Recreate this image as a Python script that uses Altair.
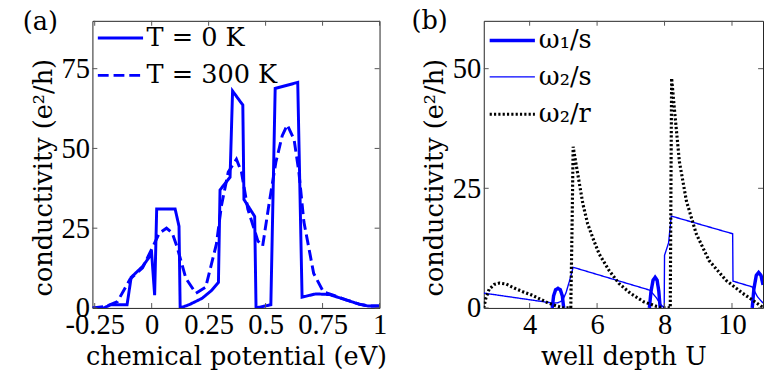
import altair as alt
import pandas as pd

# ---------------- Panel (a) data ----------------
a_t0_x = [-0.26, -0.21, -0.18, -0.108, -0.09, -0.04, 0.0, 0.013, 0.022, 0.103, 0.12, 0.125,
          0.164, 0.221, 0.263, 0.293, 0.30, 0.344, 0.355, 0.40, 0.405, 0.452, 0.458, 0.523,
          0.542, 0.641, 0.66, 0.72, 0.78, 0.85, 0.91, 0.95, 1.0]
a_t0_y = [0, 0, 1, 1, 9.6, 13, 17, 4, 31, 31, 25.6, 0,
          1, 3, 5.5, 8, 37, 41, 68, 63.6, 34, 28.7, 0, 1,
          68.8, 70.7, 3.4, 4.4, 4.2, 2.6, 1.2, 0.6, 0.6]
a_t300_x = [-0.26, -0.2, -0.15, -0.095, -0.04, 0.004, 0.034, 0.065, 0.09, 0.112, 0.15, 0.194,
            0.237, 0.284, 0.306, 0.336, 0.372, 0.394, 0.422, 0.466, 0.487, 0.516, 0.545, 0.573,
            0.595, 0.625, 0.646, 0.668, 0.711, 0.754, 0.80, 0.85, 0.91, 0.95, 1.0]
a_t300_y = [0, 0.5, 2, 9, 12.6, 19, 23.5, 25, 23.5, 19, 9.3, 4.6,
            6.5, 20, 32, 42.6, 46.6, 42.6, 31, 21, 19.4, 33, 45.7, 54,
            57.4, 52.8, 42.6, 27, 10.8, 5, 3.9, 2.6, 1.2, 0.6, 0.6]
a_series = ["T = 0 K", "T = 300 K"]
a_xticks = [-0.25, 0, 0.25, 0.5, 0.75, 1]
a_yticks = [0, 25, 50, 75]

# ---------------- Panel (b) data ----------------
b_w1s_x = [4.67, 4.71, 4.77, 4.84, 4.91, 4.97, 5.01,
           7.55, 7.60, 7.66, 7.72, 7.78, 7.83, 7.87,
           10.60, 10.65, 10.72, 10.79, 10.86, 10.92]
b_w1s_y = [0, 2.5, 3.8, 4.1, 3.8, 2.5, 0,
           0, 3.5, 5.8, 6.4, 5.8, 3.5, 0,
           0, 4.0, 6.8, 7.4, 6.8, 4.8]
b_w1s_seg = [1] * 7 + [2] * 7 + [3] * 6
b_w2s_x = [2.64, 4.70, 4.85, 4.98, 5.08, 5.18, 5.29, 7.57, 7.75, 7.90, 7.99, 8.00, 8.12,
           8.20, 10.02, 10.03, 10.60, 10.75, 10.92]
b_w2s_y = [3.1, 1.0, 1.1, 1.6, 3.2, 5.6, 8.5, 3.7, 2.2, 0.6, 0, 11, 13.6,
           19.2, 15.5, 5.6, 4.4, 2.4, 1.0]
b_w2r_x = [2.64, 2.70, 2.80, 2.95, 3.10, 3.30, 3.56, 3.80, 4.06, 4.30, 4.56, 4.80, 5.02,
           5.22, 5.26, 5.29, 5.38, 5.48, 5.58, 5.72, 5.87, 6.06, 6.35, 6.65, 6.98, 7.38,
           7.77, 8.00, 8.17, 8.19, 8.21, 8.30, 8.44, 8.65, 8.94, 9.32, 9.82, 10.31, 10.90]
b_w2r_y = [0, 2.0, 3.9, 4.9, 5.2, 5.0, 4.1, 3.4, 2.7, 1.9, 1.0, 0.4, 0,
           0, 18, 33.7, 29.9, 25.8, 21.7, 17.6, 14.7, 11.3, 7.9, 5.1, 3.1, 1.3,
           0.3, 0, 0, 25, 48, 41, 30.6, 22.3, 15.5, 9.9, 5.8, 3.1, 0.2]
b_series = ["ω₁/s", "ω₂/s", "ω₂/r"]
b_xticks = [4, 6, 8, 10]
b_yticks = [0, 25, 50]

SERIF = "DejaVu Serif"
NUM = "Liberation Serif"
W, H = 292, 292
WB = 284
BLUE = "#0000ff"
TICKC = "#555555"
TL = 5


def frame(xs, ys, s, seg=None):
    return pd.DataFrame({"x": xs, "y": ys, "s": s,
                         "seg": seg if seg is not None else [0] * len(xs),
                         "i": list(range(len(xs)))})


def tick_layers(data_x, data_y, xenc, yenc, width, height):
    dx = pd.DataFrame({"x": data_x})
    dy = pd.DataFrame({"y": data_y})
    layers = [
        alt.Chart(dx).mark_rule(color=TICKC, strokeWidth=1).encode(
            x=xenc, y=alt.value(height), y2=alt.value(height - TL)),
        alt.Chart(dx).mark_rule(color=TICKC, strokeWidth=1).encode(
            x=xenc, y=alt.value(0), y2=alt.value(TL)),
        alt.Chart(dy).mark_rule(color=TICKC, strokeWidth=1).encode(
            y=yenc, x=alt.value(0), x2=alt.value(TL)),
        alt.Chart(dy).mark_rule(color=TICKC, strokeWidth=1).encode(
            y=yenc, x=alt.value(width), x2=alt.value(width - TL)),
    ]
    return layers


def panel_label(txt, x, y):
    return alt.Chart(pd.DataFrame({"t": [txt]})).mark_text(
        font=SERIF, fontSize=26, align="center", baseline="middle", color="black"
    ).encode(x=alt.value(x), y=alt.value(y), text="t:N")


minus_fix = "replace(datum.label, '\u2212', '-')"

# ---------------- Panel (a) ----------------
dfa = pd.concat([frame(a_t0_x, a_t0_y, a_series[0]),
                 frame(a_t300_x, a_t300_y, a_series[1])], ignore_index=True)

xa = alt.X("x:Q", scale=alt.Scale(domain=[-0.26, 1.0], nice=False, zero=False),
           axis=alt.Axis(values=a_xticks, format=".2~f", title="chemical potential (eV)",
                         labelExpr=minus_fix))
ya = alt.Y("y:Q", scale=alt.Scale(domain=[0, 90], nice=False),
           axis=alt.Axis(values=a_yticks, title="conductivity (e²/h)", titleY=159))

leg_a = dict(orient="none", legendX=4, legendY=-7, title=None, symbolType="stroke",
             symbolSize=2116, symbolStrokeWidth=3, labelFont=SERIF, labelFontSize=26,
             labelColor="black", rowPadding=-11, labelOffset=2, padding=0)

lines_a = alt.Chart(dfa).mark_line(strokeWidth=3, clip=True).encode(
    x=xa, y=ya,
    color=alt.Color("s:N", scale=alt.Scale(domain=a_series, range=[BLUE, BLUE]),
                    legend=alt.Legend(**leg_a)),
    strokeDash=alt.StrokeDash("s:N", scale=alt.Scale(domain=a_series, range=[[1, 0], [11, 5]]),
                              legend=alt.Legend(**leg_a)),
    order=alt.Order("i:Q"),
)

pa = alt.layer(lines_a, *tick_layers(a_xticks, a_yticks, xa, ya, W, H),
               panel_label("(a)", -53, 1)).properties(width=W, height=H)

# ---------------- Panel (b) ----------------
dfb = pd.concat([frame(b_w1s_x, b_w1s_y, b_series[0], b_w1s_seg),
                 frame(b_w2s_x, b_w2s_y, b_series[1]),
                 frame(b_w2r_x, b_w2r_y, b_series[2])], ignore_index=True)

xb = alt.X("x:Q", scale=alt.Scale(domain=[2.64, 10.92], nice=False, zero=False),
           axis=alt.Axis(values=b_xticks, title="well depth U"))
yb = alt.Y("y:Q", scale=alt.Scale(domain=[0, 60], nice=False),
           axis=alt.Axis(values=b_yticks, title="conductivity (e²/h)", titleY=159))

leg_b = dict(orient="none", legendX=4, legendY=-5, title=None, symbolType="stroke",
             symbolSize=2116, labelFont=SERIF, labelFontSize=26,
             labelColor="black", rowPadding=-7.5, labelOffset=2, padding=0)

lines_b = alt.Chart(dfb).mark_line(clip=True, strokeCap="butt").encode(
    x=xb, y=yb,
    color=alt.Color("s:N", scale=alt.Scale(domain=b_series, range=[BLUE, BLUE, "black"]),
                    legend=alt.Legend(**leg_b)),
    strokeDash=alt.StrokeDash("s:N", scale=alt.Scale(domain=b_series,
                                                     range=[[1, 0], [1, 0], [2.2, 2.2]]),
                              legend=alt.Legend(**leg_b)),
    strokeWidth=alt.StrokeWidth("s:N", scale=alt.Scale(type="ordinal", domain=b_series,
                                                       range=[3.5, 1.4, 3.2]),
                                legend=alt.Legend(**leg_b)),
    detail="seg:N",
    order=alt.Order("i:Q"),
)

pb = alt.layer(lines_b, *tick_layers(b_xticks, b_yticks, xb, yb, WB, H),
               panel_label("(b)", -55, 0)).properties(width=WB, height=H)

chart = alt.hconcat(pa, pb, spacing=106, bounds="flush").resolve_scale(
    color="independent", strokeDash="independent", strokeWidth="independent",
    x="independent", y="independent"
).properties(
    padding={"left": 22, "top": 4, "right": 0, "bottom": 0},
).configure_view(
    stroke="#222222", strokeWidth=1
).configure_axis(
    domain=False, ticks=False, tickSize=0, grid=False,
    labelFont=NUM, labelFontSize=29, labelColor="black", labelPadding=3,
    labelFlush=False, labelOverlap=False,
    titleFont=SERIF, titleFontSize=26, titleFontWeight="normal", titleColor="black",
    titlePadding=5,
)

chart.save("out.html", embed_options={"renderer": "svg", "actions": False})
